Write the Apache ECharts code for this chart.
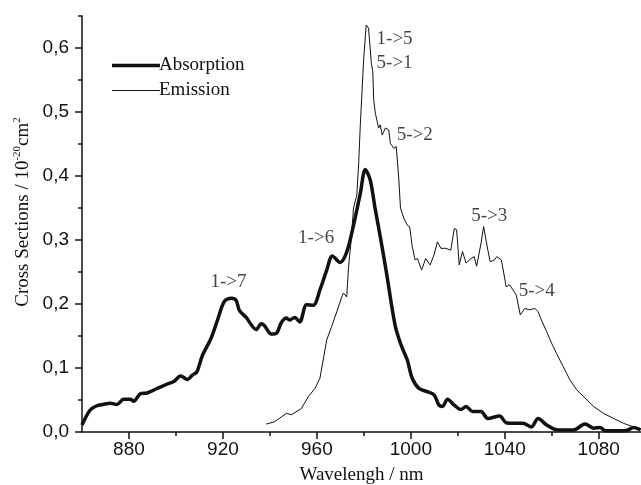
<!DOCTYPE html>
<html>
<head>
<meta charset="utf-8">
<script src="https://cdn.jsdelivr.net/npm/echarts@6/dist/echarts.min.js"></script>
<style>
  html, body { margin: 0; padding: 0; background: #fff; }
  #chart { width: 641px; height: 485px; }
</style>
</head>
<body>
<div id="chart"></div>
<script>
// absorption spectrum (thick line)
const absWavelength = [
  860, 863.4, 866.3, 869, 872, 874.9, 877.7, 880.6, 882, 884.9, 887.7, 892, 896.3, 899.1,
  902, 904.9, 907, 908.9, 911.3, 914.9, 917.7, 920.6, 923.5, 925.6, 927, 929.9, 934.2,
  936.3, 937.7, 940.6, 942.7, 944.9, 947, 948.4, 950.6, 952.7, 955.6, 958.5, 961.3, 964.2,
  966.6, 969.9, 972.7, 975.6, 978.5, 980.6, 982.7, 984.9, 987, 989.9, 991.5, 993.4, 995,
  996.5, 998.5, 1000.6, 1003.5, 1007, 1009.9, 1012, 1013.5, 1015.6, 1018.5, 1021.3, 1023.5,
  1026.3, 1029.9, 1032.8, 1037.8, 1040.6, 1044.2, 1047.8, 1051.3, 1054.2, 1057.8, 1061.4,
  1064.9, 1069.2, 1074.2, 1077.8, 1080.6, 1082.8, 1087.8, 1091.4, 1094.9, 1097.8
];
const absValue = [
  0.011, 0.034, 0.041, 0.043, 0.045, 0.043, 0.051, 0.051, 0.048, 0.060, 0.061, 0.068, 0.075, 0.079,
  0.0875, 0.082, 0.089, 0.094, 0.12, 0.146, 0.175, 0.204, 0.209, 0.206, 0.19, 0.179, 0.160,
  0.169, 0.166, 0.153, 0.154, 0.171, 0.178, 0.175, 0.179, 0.172, 0.199, 0.198, 0.222, 0.253,
  0.275, 0.265, 0.281, 0.323, 0.373, 0.410, 0.394, 0.347, 0.305, 0.243, 0.205, 0.165, 0.145,
  0.13, 0.1125, 0.084, 0.068, 0.063, 0.058, 0.042, 0.040, 0.051, 0.042, 0.035, 0.040,
  0.032, 0.032, 0.021, 0.025, 0.0145, 0.0135, 0.0135, 0.008, 0.021, 0.011, 0.004,
  0.003, 0.003, 0.0125, 0.006, 0.007, 0.002, 0.002, 0.002, 0.007, 0.003
];

// emission spectrum (thin line)
const emWavelength = [
  938.5, 942, 947, 949.2, 953.5, 956.3, 959.2, 961.3, 962, 964.2, 966.3, 968.5, 970.6, 971.3,
  972.7, 973.5, 974.6, 975.6, 977, 977.8, 978.5, 979.9, 981, 982, 983.2, 983.8, 984.2, 984.9,
  985.6, 986.3, 987, 987.8, 989.2, 990.6, 991.3, 992.8, 993.8, 994.9, 995.6, 997, 998.5,
  999.5, 1000.6, 1001.8, 1002.8, 1004.6, 1006.3, 1008.2, 1009.9, 1011.3, 1012.8, 1014.9, 1017,
  1018.5, 1019.5, 1020.6, 1022, 1023.5, 1025.6, 1027, 1028, 1029.9, 1031, 1032, 1032.8,
  1033.8, 1035.6, 1036.6, 1038.5, 1039.2, 1040.6, 1042, 1043.5, 1044.9, 1046.6, 1048.5,
  1050.6, 1052.8, 1054.2, 1055.6, 1057.8, 1059.9, 1062, 1064.9, 1067.8, 1070.6, 1074.2,
  1077.8, 1082.1, 1086.4, 1090.6, 1094.9, 1099.2
];
const emValue = [
  0.0125, 0.016, 0.029, 0.027, 0.037, 0.055, 0.068, 0.084, 0.086, 0.144, 0.165, 0.188, 0.211, 0.217,
  0.211, 0.258, 0.30, 0.35, 0.37, 0.42, 0.48, 0.581, 0.636, 0.631, 0.576, 0.563, 0.519, 0.498,
  0.495, 0.475, 0.48, 0.464, 0.475, 0.472, 0.451, 0.443, 0.446, 0.394, 0.35, 0.334, 0.323,
  0.321, 0.29, 0.269, 0.271, 0.253, 0.271, 0.261, 0.277, 0.297, 0.287, 0.287, 0.284,
  0.318, 0.316, 0.261, 0.282, 0.264, 0.271, 0.274, 0.259, 0.295, 0.321, 0.30, 0.284,
  0.266, 0.269, 0.274, 0.269, 0.256, 0.227, 0.230, 0.222, 0.214, 0.183, 0.193,
  0.191, 0.193, 0.188, 0.175, 0.157, 0.139, 0.123, 0.102, 0.081, 0.066, 0.053,
  0.040, 0.029, 0.021, 0.0135, 0.008, 0.004
];

// transition labels
const transitionText = ['1->7', '1->6', '1->5', '5->1', '5->2', '5->3', '5->4'];
const transitionX = [922.6, 959.9, 993.3, 993.3, 1001.9, 1033.6, 1053.8];
const transitionY = [0.234, 0.302, 0.614, 0.575, 0.464, 0.336, 0.219];

// axis ticks
const xMajor = [880, 920, 960, 1000, 1040, 1080];
const xMinor = [900, 940, 980, 1020, 1060];
const yMajor = [0, 0.1, 0.2, 0.3, 0.4, 0.5, 0.6];
const yMinor = [0.05, 0.15, 0.25, 0.35, 0.45, 0.55, 0.65];

const serif = 'Liberation Serif';
const sans = 'Liberation Sans';
const ink = '#111';

const zip = (xs, ys) => xs.map((x, i) => [x, ys[i]]);

const chart = echarts.init(document.getElementById('chart'));

const axisLineStyle = { lineStyle: { color: ink, width: 1.5 } };

chart.setOption({
  animation: false,
  backgroundColor: '#fff',
  grid: { left: 82, right: 0, top: 16, bottom: 53, outerBoundsMode: 'none' },
  legend: {
    // plain line icons: thick for absorption, thin for emission
    data: [
      { name: 'Absorption', icon: 'path://M0 0H48V3.5H0Z' },
      { name: 'Emission', icon: 'path://M0 0H48V1H0Z' }
    ],
    orient: 'vertical',
    left: 107,
    top: 51,
    itemWidth: 48,
    itemHeight: 14,
    itemGap: 6,
    itemStyle: { color: ink },
    textStyle: { fontFamily: serif, fontSize: 19, color: '#111', padding: [0, 0, 0, -6] }
  },
  xAxis: [
    {
      type: 'value', min: 860, max: 1098,
      name: 'Wavelengh / nm', nameLocation: 'middle', nameGap: 34,
      nameTextStyle: { fontFamily: serif, fontSize: 19, color: '#111' },
      axisLine: axisLineStyle,
      axisTick: { customValues: xMajor, length: 7, lineStyle: { color: ink, width: 1.5 } },
      axisLabel: {
        customValues: xMajor, margin: 8,
        fontFamily: sans, fontSize: 19, color: '#111',
        formatter: v => String(v)
      },
      splitLine: { show: false }
    },
    {
      type: 'value', min: 860, max: 1098, position: 'bottom',
      axisLine: { show: false },
      axisTick: { customValues: xMinor, length: 4, lineStyle: { color: ink, width: 1.5 } },
      axisLabel: { show: false },
      splitLine: { show: false }
    }
  ],
  yAxis: [
    {
      type: 'value', min: 0, max: 0.65,
      name: 'Cross Sections / 10{sup|-20}cm{sup|2}',
      nameLocation: 'middle', nameGap: 48, nameRotate: 90,
      nameMoveOverlap: false,
      nameTextStyle: {
        fontFamily: serif, fontSize: 19, color: '#111', lineHeight: 22,
        padding: [0, 0, 0, 24],
        rich: {
          sup: { fontFamily: serif, fontSize: 11, color: '#111', verticalAlign: 'top', lineHeight: 12 }
        }
      },
      axisLine: axisLineStyle,
      axisTick: { customValues: yMajor, length: 7, lineStyle: { color: ink, width: 1.5 } },
      axisLabel: {
        customValues: yMajor, margin: 13,
        fontFamily: sans, fontSize: 19, color: '#111',
        formatter: v => v.toFixed(1).replace('.', ',')
      },
      splitLine: { show: false }
    },
    {
      type: 'value', min: 0, max: 0.65, position: 'left',
      axisLine: { show: false },
      axisTick: { customValues: yMinor, length: 4, lineStyle: { color: ink, width: 1.5 } },
      axisLabel: { show: false },
      splitLine: { show: false }
    }
  ],
  series: [
    {
      name: 'Absorption', type: 'line', xAxisIndex: 0, yAxisIndex: 0,
      data: zip(absWavelength, absValue),
      showSymbol: false, symbol: 'none', smooth: 0.3,
      lineStyle: { color: ink, width: 3.5 },
      itemStyle: { color: ink }
    },
    {
      name: 'Emission', type: 'line', xAxisIndex: 0, yAxisIndex: 0,
      data: zip(emWavelength, emValue),
      showSymbol: false, symbol: 'none',
      lineStyle: { color: ink, width: 1 },
      itemStyle: { color: ink }
    },
    {
      name: 'transitions', type: 'scatter', xAxisIndex: 0, yAxisIndex: 0,
      silent: true, symbolSize: 1,
      itemStyle: { color: 'rgba(0,0,0,0)' },
      data: transitionText.map((t, i) => ({ name: t, value: [transitionX[i], transitionY[i]] })),
      label: {
        show: true, position: [0, 0], align: 'center', verticalAlign: 'middle',
        formatter: p => p.name,
        fontFamily: serif, fontSize: 19, color: '#111'
      }
    }
  ]
});
</script>
</body>
</html>
